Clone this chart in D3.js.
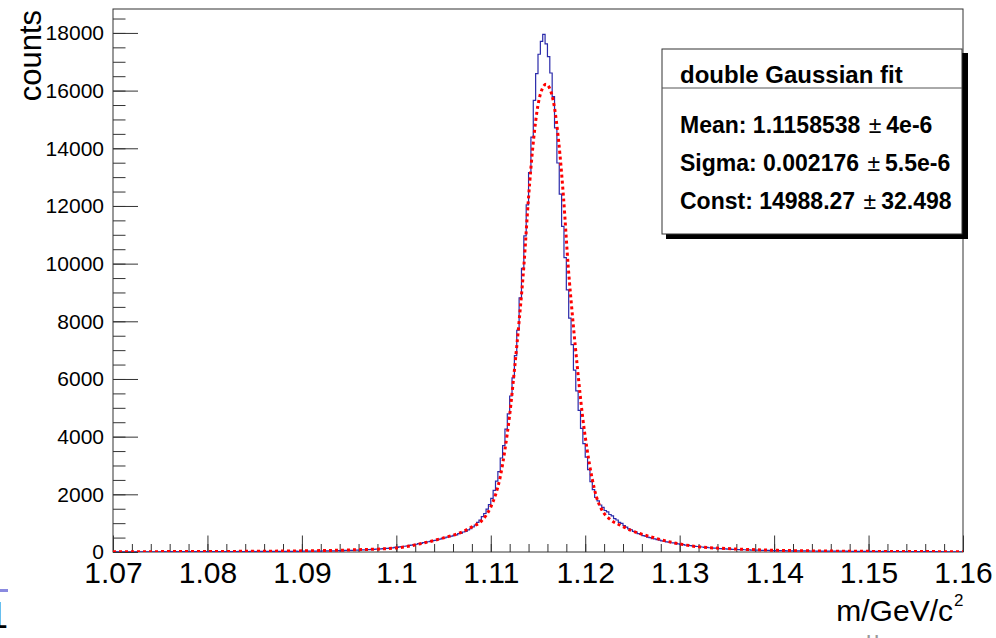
<!DOCTYPE html>
<html>
<head>
<meta charset="utf-8">
<script src="https://d3js.org/d3.v7.min.js"></script>
<style>
  body { margin: 0; background: #fff; }
  svg { font-family: "Liberation Sans", Arial, Helvetica, sans-serif; }
</style>
</head>
<body>
<svg id="chart" width="996" height="638"></svg>
<script>

// invariant mass histogram, 360 bins between 1.07 and 1.16 GeV/c^2
var massMin = 1.07, massMax = 1.16
var binCounts = [
  5,4,6,3,5,7,4,6,5,8, 6,5,7,9,6,8,7,5,9,8, 7,10,8,9,11,8,10,9,12,10,
  11,9,13,10,12,11,14,12,13,15, 12,14,13,16,14,15,13,17,15,16, 18,15,17,19,16,18,20,17,19,21,
  18,20,22,19,21,23,20,22,24,21, 23,25,22,24,26,23,25,27,24,26,28,27,
  29,31,30,32,34,33,35,37,36,39, 41,40,44,45,49,48,53,52,57,58,
  61,66,67,73,75,81,83,89,92,99, 103,111,115,124,129,
  140,145,157,163,177,184,200,208,228,236,258,268,288,297,323,
  332,356,366,394,405,436,446,476,486,515, 534,548,580,596,635,655,694,716,765,806,
  874,936,1028,1104,1226,1335,1488,1642,1862,2140,
  2460,2790,3260,3690,4260,4790,5410,6040,6810,7690,8810,9840,10960,12040,13160,14390,15660,16590,17260,17710,
  17950,
  17620,17180,16610,15790,14710,13490,12410,11290,10210,9090,8110,7190,6310,5590,4910,4290,3760,3290,2860,2440,
  2160,1890,1770,1630,1550,1440,1390,1300,1250,1160, 1110,1030,990,915,866,805,772,714,686,636,
  610,570,549,516,499,466,455,426,413,386, 374,352,343,321,313,292,283,265,259,241,
  235,218,211,195,190,178,174,162,158,147, 144,134,131,122,120,111,109,101,100,93,
  92,86,84,79,78,73,72,67,67,63, 62,59,58,55,55,51,50,49,46,46,
  44,45,42,43,41,40,41,38,39,37, 36,37,35,34,35,33,32,33,31,30, 31,29,28,30,27,28,26,27,25,26,
  24,25,23,24,22,23,21,22,20,21, 19,20,18,19,17,18,17,16,17,15, 16,15,14,15,13,14,13,12,13,12,
  11,12,11,10,11,10,9,10,9,10, 9,8,9,8,7,8,7
]

// double Gaussian fit curve
var fitMass = [1.070, 1.075, 1.080, 1.085, 1.090, 1.095, 1.100, 1.103, 1.105, 1.107, 1.108, 1.109, 1.110,
  1.1105, 1.111, 1.1115, 1.112, 1.1125, 1.113, 1.1135, 1.114, 1.1145, 1.115, 1.1155, 1.11585,
  1.1162, 1.1167, 1.1172, 1.1177, 1.1182, 1.1187, 1.1192, 1.1197, 1.1202, 1.1207, 1.1212, 1.1217,
  1.1227, 1.1237, 1.1247, 1.1267, 1.1287, 1.1317, 1.135, 1.140, 1.145, 1.150, 1.155, 1.160]
var fitCounts = [10, 13, 17, 25, 40, 70, 140, 320, 490, 700, 870, 1070, 1560,
  1980, 2600, 3550, 4750, 6300, 8000, 9900, 12300, 14200, 15500, 16100, 16220,
  16100, 15500, 14200, 12300, 9900, 8000, 6300, 4750, 3550, 2600, 1900, 1500,
  1110, 930, 770, 550, 370, 190, 120, 60, 35, 22, 15, 11]

var xTicks = [1.07, 1.08, 1.09, 1.10, 1.11, 1.12, 1.13, 1.14, 1.15, 1.16]
var xTickLabels = ["1.07", "1.08", "1.09", "1.1", "1.11", "1.12", "1.13", "1.14", "1.15", "1.16"]
var yTicks = [0, 2000, 4000, 6000, 8000, 10000, 12000, 14000, 16000, 18000]
var yTickLabels = ["0", "2000", "4000", "6000", "8000", "10000", "12000", "14000", "16000", "18000"]

var fitTitle = "double Gaussian fit"
var fitNames = ["Mean: 1.1158538", "Sigma: 0.002176", "Const: 14988.27"]
var fitErrors = ["4e-6", "5.5e-6", "32.498"]

// frame of the plot
var frame = {left: 113, right: 963, top: 9, bottom: 552}
var yMax = 18830

var svg = d3.select("#chart")

var x = d3.scaleLinear().domain([massMin, massMax]).range([frame.left, frame.right])
var y = d3.scaleLinear().domain([0, yMax]).range([frame.bottom, frame.top])

svg.append("defs").append("clipPath").attr("id", "plotclip")
  .append("rect")
    .attr("x", frame.left).attr("y", frame.top)
    .attr("width", frame.right - frame.left).attr("height", frame.bottom - frame.top)

// minor ticks (no labels)
svg.append("g")
    .attr("transform", "translate(0," + frame.bottom + ")")
    .call(d3.axisBottom(x).tickValues(d3.range(1.07, 1.1601, 0.002)).tickSize(-8).tickFormat(""))
    .call(function(g){ g.select(".domain").remove() })
svg.append("g")
    .attr("transform", "translate(" + frame.left + ",0)")
    .call(d3.axisLeft(y).tickValues(d3.range(0, yMax, 500)).tickSize(-12.5).tickFormat(""))
    .call(function(g){ g.select(".domain").remove() })

// major ticks with labels
var xAxis = svg.append("g")
    .attr("transform", "translate(0," + frame.bottom + ")")
    .call(d3.axisBottom(x).tickValues(xTicks).tickSize(-16.5).tickPadding(10)
      .tickFormat(function(d, i){ return xTickLabels[i] }))
xAxis.select(".domain").remove()
xAxis.selectAll("text").style("font-size", "30px").attr("fill", "#000")

var yAxis = svg.append("g")
    .attr("transform", "translate(" + frame.left + ",0)")
    .call(d3.axisLeft(y).tickValues(yTicks).tickSize(-25).tickPadding(9)
      .tickFormat(function(d, i){ return yTickLabels[i] }))
yAxis.select(".domain").remove()
yAxis.selectAll("text").style("font-size", "21px").attr("fill", "#000")

svg.selectAll(".tick line").attr("stroke", "#333").attr("stroke-width", 1)

// frame box
svg.append("rect")
    .attr("x", frame.left).attr("y", frame.top)
    .attr("width", frame.right - frame.left).attr("height", frame.bottom - frame.top)
    .attr("fill", "none").attr("stroke", "#333").attr("stroke-width", 1)

// histogram as steps
var binWidth = (massMax - massMin) / binCounts.length
var steps = binCounts.map(function(c, i){ return [massMin + i * binWidth, c] })
steps.push([massMax, binCounts[binCounts.length - 1]])

var histLine = d3.line()
    .x(function(d){ return x(d[0]) })
    .y(function(d){ return y(d[1]) })
    .curve(d3.curveStepAfter)

svg.append("path")
    .datum(steps)
    .attr("clip-path", "url(#plotclip)")
    .attr("d", histLine)
    .attr("fill", "none")
    .attr("stroke", "#2a2aaa")
    .attr("stroke-width", 1.2)

// fit curve
var fitLine = d3.line()
    .x(function(d, i){ return x(fitMass[i]) })
    .y(function(d){ return y(d) })
    .curve(d3.curveMonotoneX)

svg.append("path")
    .datum(fitCounts)
    .attr("clip-path", "url(#plotclip)")
    .attr("d", fitLine)
    .attr("fill", "none")
    .attr("stroke", "#ff0000")
    .attr("stroke-width", 3)
    .attr("stroke-dasharray", "3,3")

// axis titles
svg.append("text")
    .attr("transform", "translate(41,10) rotate(-90)")
    .attr("text-anchor", "end")
    .style("font-size", "31px")
    .text("counts")

svg.append("text")
    .attr("x", 953).attr("y", 621)
    .attr("text-anchor", "end")
    .style("font-size", "30px")
    .text("m/GeV/c")
svg.append("text")
    .attr("x", 954).attr("y", 606)
    .style("font-size", "17px")
    .text("2")

// fit results box
var box = {x: 662, y: 49, w: 300, h: 185}
svg.append("rect")
    .attr("x", box.x + 4).attr("y", box.y + 4)
    .attr("width", box.w + 2).attr("height", box.h + 1)
    .attr("fill", "#000")
svg.append("rect")
    .attr("x", box.x).attr("y", box.y)
    .attr("width", box.w).attr("height", box.h)
    .attr("fill", "#fff").attr("stroke", "#333").attr("stroke-width", 1)
svg.append("line")
    .attr("x1", box.x).attr("x2", box.x + box.w)
    .attr("y1", 88).attr("y2", 88)
    .attr("stroke", "#555").attr("stroke-width", 1)

svg.append("text")
    .attr("x", 680).attr("y", 82.5)
    .style("font-size", "24px").style("font-weight", "bold")
    .text(fitTitle)

var baselines = [133, 171, 209]
fitNames.forEach(function(name, i){
  var t = svg.append("text")
      .attr("x", 680).attr("y", baselines[i])
      .style("font-size", "23px").style("font-weight", "bold")
  t.append("tspan").text(name + " ")
  t.append("tspan").attr("dx", 2).style("font-weight", "normal").text("\u00b1")
  t.append("tspan").attr("dx", 5).text(fitErrors[i])
})

// bits of the neighbouring pad at the page edges
svg.append("rect").attr("x", 0).attr("y", 589).attr("width", 8).attr("height", 3).attr("fill", "#8a8ae0")
svg.append("text")
    .attr("x", -12).attr("y", 628)
    .style("font-size", "36px")
    .text("1")
svg.append("text")
    .attr("x", 866).attr("y", 648)
    .style("font-size", "24px").attr("fill", "#999")
    .text("u")

</script>
</body>
</html>
